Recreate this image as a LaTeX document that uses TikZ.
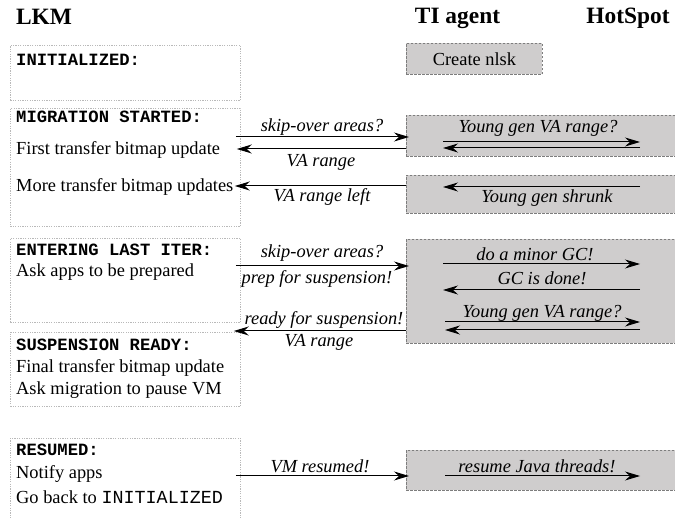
\documentclass[tikz,border=0pt]{standalone}
\usepackage{fontspec}
\setmainfont{Liberation Serif}
\setmonofont{Liberation Mono}
\usetikzlibrary{arrows.meta,calc}
\definecolor{boxgray}{RGB}{207,205,205}
\definecolor{boxedge}{RGB}{125,125,125}
\definecolor{lkmedge}{RGB}{185,185,185}
\tikzset{
  lkmbox/.style={draw=lkmedge, line width=0.8pt, dash pattern=on 1.2pt off 1.2pt,
    anchor=north west, inner sep=0pt, minimum width=230pt},
  agentbox/.style={draw=boxedge, fill=boxgray, line width=0.8pt, dash pattern=on 2.5pt off 1.5pt,
    anchor=north west, inner sep=0pt},
  head/.style={font=\fontsize{17.2}{20}\selectfont\ttfamily\bfseries, anchor=west, inner sep=0pt},
  body/.style={font=\fontsize{18.4}{22}\selectfont, anchor=west, inner sep=0pt},
  lab/.style={font=\fontsize{18.4}{22}\selectfont\itshape, inner sep=0pt},
  title/.style={font=\fontsize{23.4}{28}\selectfont\bfseries, inner sep=0pt},
  msg/.style={draw, line width=1pt, -{Stealth[length=15pt,width=9pt,inset=5pt]}},
}
\begin{document}
\begin{tikzpicture}[x=1pt,y=-1pt]
\clip (0,0) rectangle (675,518);

% column titles
\node[title] (tlkm) at (44,17) {LKM};
\node[title] (tti) at (457.5,18) {TI agent};
\node[title] (ths) at (628,18) {HotSpot};

% LKM state boxes
\node[lkmbox, minimum height=55pt] (init) at (10,45) {};
\node[lkmbox, minimum height=118pt] (mig) at (10,108) {};
\node[lkmbox, minimum height=84pt] (ent) at (10,238) {};
\node[lkmbox, minimum height=74pt] (sus) at (10,332) {};
\node[lkmbox, minimum height=90pt] (res) at (10,438) {};

\node[head] (hinit) at (16,60) {INITIALIZED:};
\node[head] (hmig) at (16,117) {MIGRATION STARTED:};
\node[body] (m1) at (16,150) {First transfer bitmap update};
\node[body] (m2) at (16,187) {More transfer bitmap updates};
\node[head] (hent) at (16,250) {ENTERING LAST ITER:};
\node[body] (e1) at (16,272) {Ask apps to be prepared};
\node[head] (hsus) at (16,345) {SUSPENSION READY:};
\node[body] (s1) at (16,368) {Final transfer bitmap update};
\node[body] (s2) at (16,390) {Ask migration to pause VM};
\node[head] (hres) at (16,450) {RESUMED:};
\node[body] (r1) at (16,474) {Notify apps};
\node[body] (r2) at (16,497) {Go back to {\ttfamily INITIALIZED}};

% TI agent / HotSpot boxes
\node[agentbox, minimum width=136pt, minimum height=31pt,
      font=\fontsize{18.4}{22}\selectfont] (nlsk) at (406,43) {Create nlsk};
\node[agentbox, minimum width=280pt, minimum height=41pt] (g1) at (406,115) {};
\node[agentbox, minimum width=280pt, minimum height=38pt] (g2) at (406,175) {};
\node[agentbox, minimum width=280pt, minimum height=104pt] (g3) at (406,239) {};
\node[agentbox, minimum width=280pt, minimum height=40pt] (g4) at (406,450) {};

% migration started
\draw[msg] ($(mig.east|-0,137)+(-5,0)$) -- ($(g1.west|-0,137)+(3,0)$);
\node[lab] (l1) at (322,127) {skip-over areas?};
\draw[msg] (g1.west|-0,149) -- ($(mig.east|-0,149)+(-4,0)$);
\node[lab] (l2) at (321,162) {VA range};
\draw[msg] ($(g1.west|-0,142)+(37,0)$) -- ($(g1.west|-0,142)+(234,0)$);
\draw[msg] ($(g1.west|-0,148)+(234,0)$) -- ($(g1.west|-0,148)+(37,0)$);
\node[lab] (l3) at (538,128) {Young gen VA range?};

\draw[msg] (g2.west|-0,186) -- ($(mig.east|-0,186)+(-6,0)$);
\node[lab] (l4) at (322,197) {VA range left};
\draw[msg] ($(g2.west|-0,187)+(234,0)$) -- ($(g2.west|-0,187)+(37,0)$);
\node[lab] (l5) at (547,198) {Young gen shrunk};

% entering last iteration
\draw[msg] ($(ent.east|-0,266)+(-5,0)$) -- ($(g3.west|-0,266)+(3,0)$);
\node[lab] (l6) at (322,253) {skip-over areas?};
\node[lab] (l7) at (317,279) {prep for suspension!};
\draw[msg] ($(g3.west|-0,264)+(37,0)$) -- ($(g3.west|-0,264)+(234,0)$);
\node[lab] (l8) at (535,254) {do a minor GC!};
\draw[msg] ($(g3.west|-0,290)+(234,0)$) -- ($(g3.west|-0,290)+(37,0)$);
\node[lab] (l9) at (542,278) {GC is done!};
\draw[msg] ($(g3.west|-0,322)+(39,0)$) -- ($(g3.west|-0,322)+(234,0)$);
\draw[msg] ($(g3.west|-0,330)+(234,0)$) -- ($(g3.west|-0,330)+(39,0)$);
\node[lab] (l10) at (542,313) {Young gen VA range?};

\draw[msg] (g3.west|-0,331) -- ($(sus.east|-0,331)+(-7,0)$);
\node[lab] (l11) at (324,320) {ready for suspension!};
\node[lab] (l12) at (319,342) {VA range};

% resumed
\draw[msg] ($(res.east|-0,476)+(-5,0)$) -- ($(g4.west|-0,476)+(3,0)$);
\node[lab] (l13) at (320,466) {VM resumed!};
\draw[msg] ($(g4.west|-0,476)+(39,0)$) -- ($(g4.west|-0,476)+(234,0)$);
\node[lab] (l14) at (537,466) {resume Java threads!};
\end{tikzpicture}
\end{document}
